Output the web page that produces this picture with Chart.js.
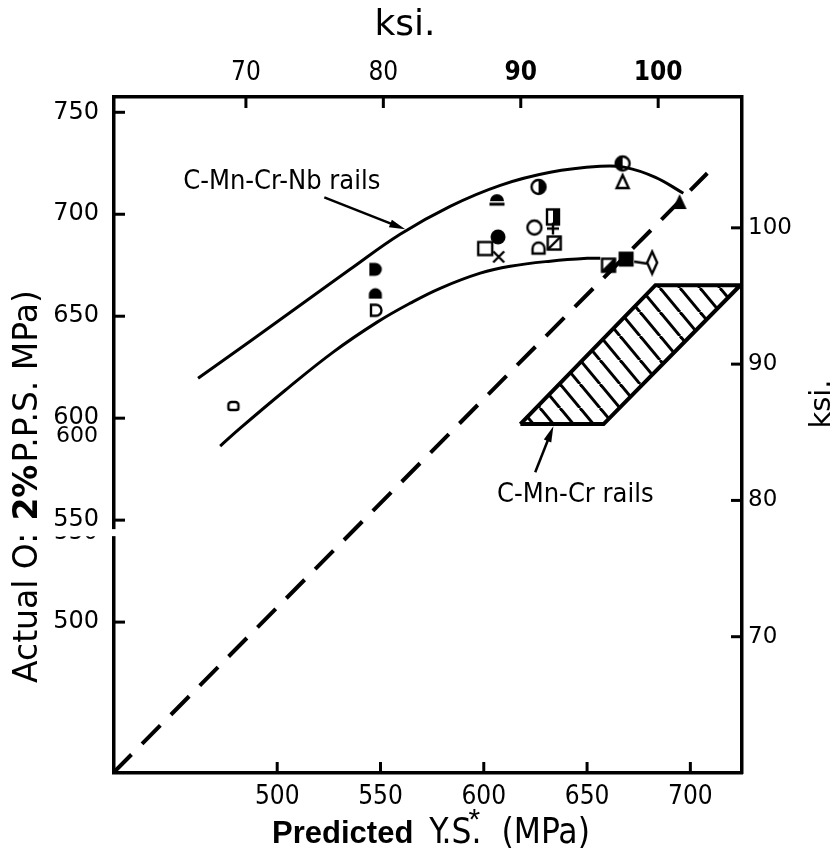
<!DOCTYPE html>
<html>
<head>
<meta charset="utf-8">
<title>Predicted vs actual yield strength of rail steels</title>
<script src="https://cdn.jsdelivr.net/npm/chart.js@4.4.1/dist/chart.umd.min.js"></script>
<style>
  html, body { margin: 0; padding: 0; background: #fff; }
  #wrap { width: 840px; height: 858px; }
</style>
</head>
<body>
<div id="wrap"><canvas id="ysChart" width="840" height="858"></canvas></div>
<script>
// Predicted Y.S. against measured 0.2% proof stress for C-Mn-Cr-Nb rails (MPa)
const predictedYS = [478.8, 547.5, 547.5, 547.8, 606.4, 626.5, 633.5, 624.5, 633.5, 626.5,
                     634.1, 606.9, 600.7, 607.2, 667.2, 667.2, 694.8, 660.4, 668.9, 681.5];
const actualPS    = [606.0, 673.0, 661.1, 652.9, 706.9, 713.4, 698.7, 693.5, 693.0, 683.2,
                     685.9, 688.9, 683.2, 679.1, 724.9, 715.8, 706.0, 675.0, 678.0, 676.3];
const railSymbols = ['smallBox', 'dFilled', 'domeSolid', 'dOpen', 'capFilled', 'circleHalfR',
                     'boxHalf', 'circleOpen', 'plus', 'domeOpen', 'boxDiag', 'circleFilled',
                     'boxOpen', 'cross', 'circleHalfL', 'triOpen', 'triFilled', 'boxDiagHalf',
                     'boxFilled', 'diamondTail'];

// band curves for the Nb rails
const nbUpperX = [461.7, 486.9, 511.1, 535.3, 559.5, 583.7, 608.0, 632.2, 656.4, 668.5, 683.1, 696.6];
const nbUpperY = [619.6, 637.7, 655.4, 673.0, 690.2, 703.9, 714.2, 720.6, 723.5, 723.0, 718.1, 710.3];
const nbLowerX = [472.4, 482.1, 503.9, 527.1, 548.4, 564.4, 578.9, 598.3, 612.8, 632.2, 650.1, 656.4];
const nbLowerY = [586.3, 595.1, 613.7, 632.4, 647.1, 656.4, 663.7, 671.1, 674.5, 677.0, 678.4, 678.4];

// 1:1 line
const parityX = [420.6, 708.2];
const parityY = [426.0, 720.1];

// C-Mn-Cr rails scatter band (closed)
const crBandX = [617.7, 683.1, 724.2, 658.0, 617.7];
const crBandY = [597.1, 665.2, 665.2, 597.1, 597.1];

// axis ticks
const mpaTicksX = [500, 550, 600, 650, 700];
const mpaTicksY = [500, 550, 600, 650, 700, 750];
const ksiTicksTop = [70, 80, 90, 100];
const ksiTicksRight = [70, 80, 90, 100];

const toPoints = (xs, ys) => xs.map((x, i) => ({ x: x, y: ys[i] }));

// little canvases for the marker symbols
function makeSymbol(kind) {
  const c = document.createElement('canvas');
  c.width = kind === 'diamondTail' ? 44 : 22;
  c.height = kind === 'diamondTail' ? 28 : 22;
  const g = c.getContext('2d');
  const cx = c.width / 2, cy = c.height / 2;
  g.strokeStyle = '#000';
  g.fillStyle = '#000';
  g.lineWidth = 2.4;
  g.beginPath();
  switch (kind) {
    case 'smallBox':
      g.moveTo(cx - 2, cy - 4);
      g.arcTo(cx + 5, cy - 4, cx + 5, cy + 4, 3);
      g.arcTo(cx + 5, cy + 4, cx - 5, cy + 4, 2);
      g.arcTo(cx - 5, cy + 4, cx - 5, cy - 4, 2);
      g.arcTo(cx - 5, cy - 4, cx + 5, cy - 4, 3);
      g.closePath();
      g.stroke();
      break;
    case 'dFilled':
      g.moveTo(cx - 6, cy - 6.5);
      g.lineTo(cx, cy - 6.5);
      g.arc(cx, cy, 6.5, -Math.PI / 2, Math.PI / 2);
      g.lineTo(cx - 6, cy + 6.5);
      g.closePath();
      g.fill();
      break;
    case 'dOpen':
      g.moveTo(cx - 5, cy - 5.5);
      g.lineTo(cx, cy - 5.5);
      g.arc(cx, cy, 5.5, -Math.PI / 2, Math.PI / 2);
      g.lineTo(cx - 5, cy + 5.5);
      g.closePath();
      g.stroke();
      break;
    case 'domeSolid':
      g.arc(cx, cy + 1, 6.5, Math.PI, 0);
      g.lineTo(cx + 6.5, cy + 5);
      g.lineTo(cx - 6.5, cy + 5);
      g.closePath();
      g.fill();
      break;
    case 'domeOpen':
      g.moveTo(cx - 6, cy + 5);
      g.lineTo(cx - 6, cy);
      g.arc(cx, cy, 6, Math.PI, 0);
      g.lineTo(cx + 6, cy + 5);
      g.closePath();
      g.stroke();
      break;
    case 'capFilled':
      g.arc(cx, cy + 1, 7, Math.PI, 0);
      g.closePath();
      g.fill();
      g.fillRect(cx - 7.5, cy + 2.5, 15, 3);
      break;
    case 'circleHalfR':
    case 'circleHalfL':
      g.arc(cx, cy, 7, 0, Math.PI * 2);
      g.stroke();
      g.beginPath();
      if (kind === 'circleHalfR') g.arc(cx, cy, 7, -Math.PI / 2, Math.PI / 2);
      else g.arc(cx, cy, 7, Math.PI / 2, Math.PI * 1.5);
      g.closePath();
      g.fill();
      break;
    case 'circleOpen':
      g.arc(cx, cy, 7, 0, Math.PI * 2);
      g.stroke();
      break;
    case 'circleFilled':
      g.arc(cx, cy, 7.5, 0, Math.PI * 2);
      g.fill();
      break;
    case 'boxHalf':
      g.strokeRect(cx - 6, cy - 7.5, 12, 15);
      g.fillRect(cx, cy - 7.5, 6, 15);
      break;
    case 'boxOpen':
      g.strokeRect(cx - 7, cy - 6.5, 14, 13);
      break;
    case 'boxFilled':
      g.fillRect(cx - 7.5, cy - 7.5, 15, 15);
      break;
    case 'boxDiag':
    case 'boxDiagHalf':
      g.strokeRect(cx - 6.5, cy - 6.5, 13, 13);
      g.moveTo(cx - 6.5, cy + 6.5);
      g.lineTo(cx + 6.5, cy - 6.5);
      g.stroke();
      if (kind === 'boxDiagHalf') {
        g.beginPath();
        g.moveTo(cx + 6.5, cy - 6.5);
        g.lineTo(cx + 6.5, cy + 6.5);
        g.lineTo(cx - 6.5, cy + 6.5);
        g.closePath();
        g.fill();
      }
      break;
    case 'plus':
      g.moveTo(cx - 6, cy); g.lineTo(cx + 6, cy);
      g.moveTo(cx, cy - 6); g.lineTo(cx, cy + 6);
      g.stroke();
      break;
    case 'cross':
      g.moveTo(cx - 5.5, cy - 5.5); g.lineTo(cx + 5.5, cy + 5.5);
      g.moveTo(cx + 5.5, cy - 5.5); g.lineTo(cx - 5.5, cy + 5.5);
      g.stroke();
      break;
    case 'triOpen':
      g.moveTo(cx, cy - 7); g.lineTo(cx + 6, cy + 6); g.lineTo(cx - 6, cy + 6);
      g.closePath();
      g.stroke();
      break;
    case 'triFilled':
      g.moveTo(cx, cy - 8); g.lineTo(cx + 7, cy + 7); g.lineTo(cx - 7, cy + 7);
      g.closePath();
      g.fill();
      break;
    case 'diamondTail':
      g.moveTo(cx, cy - 11); g.lineTo(cx + 5, cy); g.lineTo(cx, cy + 11); g.lineTo(cx - 5, cy);
      g.closePath();
      g.stroke();
      g.beginPath();
      g.moveTo(cx - 5, cy + 1);
      g.lineTo(cx - 18, cy - 1);
      g.stroke();
      break;
  }
  return c;
}

// diagonal hatching for the C-Mn-Cr band
function makeHatch() {
  const w = 20, h = 24;
  const c = document.createElement('canvas');
  c.width = w; c.height = h;
  const g = c.getContext('2d');
  g.strokeStyle = '#000';
  g.lineWidth = 3;
  [-w, 0, w].forEach(k => {
    g.beginPath();
    g.moveTo(k, 0);
    g.lineTo(k + w, h);
    g.stroke();
  });
  return g.createPattern(c, 'repeat');
}

const symbolCanvases = railSymbols.map(makeSymbol);

// tick marks point into the plot on all four sides
const inwardTicks = {
  id: 'inwardTicks',
  afterDraw(chart) {
    const { ctx, chartArea: a } = chart;
    const len = 11;
    ctx.save();
    ctx.strokeStyle = '#000';
    ctx.lineWidth = 3;
    ['x', 'x2', 'y', 'y2'].forEach(id => {
      const s = chart.scales[id];
      s.ticks.forEach(t => {
        const p = s.getPixelForValue(t.value);
        ctx.beginPath();
        if (id === 'x') { ctx.moveTo(p, a.bottom); ctx.lineTo(p, a.bottom - len); }
        if (id === 'x2') { ctx.moveTo(p, a.top); ctx.lineTo(p, a.top + len); }
        if (id === 'y') { ctx.moveTo(a.left, p); ctx.lineTo(a.left + len, p); }
        if (id === 'y2') { ctx.moveTo(a.right, p); ctx.lineTo(a.right - len, p); }
        ctx.stroke();
      });
    });
    ctx.restore();
  }
};

function drawArrow(ctx, x1, y1, x2, y2) {
  const ang = Math.atan2(y2 - y1, x2 - x1);
  ctx.beginPath();
  ctx.moveTo(x1, y1);
  ctx.lineTo(x2 - Math.cos(ang) * 10, y2 - Math.sin(ang) * 10);
  ctx.stroke();
  ctx.beginPath();
  ctx.moveTo(x2, y2);
  ctx.lineTo(x2 - Math.cos(ang) * 16 + Math.sin(ang) * 4, y2 - Math.sin(ang) * 16 - Math.cos(ang) * 4);
  ctx.lineTo(x2 - Math.cos(ang) * 16 - Math.sin(ang) * 4, y2 - Math.sin(ang) * 16 + Math.cos(ang) * 4);
  ctx.closePath();
  ctx.fill();
}

// labels with arrows for the two rail groups
const railLabels = {
  id: 'railLabels',
  afterDatasetsDraw(chart) {
    const { ctx } = chart;
    const px = v => chart.scales.x.getPixelForValue(v);
    const py = v => chart.scales.y.getPixelForValue(v);
    ctx.save();
    ctx.fillStyle = '#000';
    ctx.strokeStyle = '#000';
    ctx.lineWidth = 2.5;
    ctx.textBaseline = 'middle';
    ctx.textAlign = 'left';
    ctx.font = '27px "DejaVu Sans Condensed", sans-serif';
    ctx.fillText('C-Mn-Cr-Nb rails', px(454.5), py(715.7));
    drawArrow(ctx, px(522.8), py(708.3), px(562.0), py(692.6));
    ctx.textAlign = 'center';
    ctx.fillText('C-Mn-Cr rails', px(644.3), py(562.3));
    drawArrow(ctx, px(624.9), py(573.5), px(633.7), py(596.1));
    ctx.restore();
  }
};

// axis titles, the bottom and left ones mix bold and regular type
const axisTitles = {
  id: 'axisTitles',
  afterDraw(chart) {
    const { ctx, chartArea: a } = chart;
    ctx.save();
    ctx.fillStyle = '#000';

    // top: ksi.
    ctx.textAlign = 'center';
    ctx.textBaseline = 'middle';
    ctx.font = '36px "DejaVu Sans", sans-serif';
    ctx.fillText('ksi.', a.left + 291, 26);

    // right: ksi.
    ctx.save();
    ctx.translate(a.right + 80, 404);
    ctx.rotate(-Math.PI / 2);
    ctx.font = '29px "DejaVu Sans", sans-serif';
    ctx.fillText('ksi.', 0, 0);
    ctx.restore();

    // bottom: Predicted Y.S.* (MPa)
    ctx.textAlign = 'left';
    ctx.textBaseline = 'alphabetic';
    const boldF = 'bold 31px "Liberation Sans", Arial, sans-serif';
    const thinF = '35px "DejaVu Sans Condensed", sans-serif';
    ctx.font = boldF;
    const w1 = ctx.measureText('Predicted').width;
    ctx.font = thinF;
    const w2 = ctx.measureText('Y.S.').width;
    const w3 = ctx.measureText('(MPa)').width;
    const gap = 16;
    let bx = 431 - (w1 + w2 + w3 + 2 * gap + 4) / 2;
    const by = a.bottom + 70;
    ctx.font = boldF;
    ctx.fillText('Predicted', bx, by);
    bx += w1 + gap;
    ctx.font = thinF;
    ctx.fillText('Y.S.', bx, by);
    bx += w2;
    ctx.font = '30px "Liberation Sans", sans-serif';
    ctx.fillText('*', bx - 13, by - 14);
    bx += 4 + gap;
    ctx.font = thinF;
    ctx.fillText('(MPa)', bx, by);

    // left: Actual 0.2% P.S. (MPa)
    ctx.save();
    ctx.translate(28, 683);
    ctx.rotate(-Math.PI / 2);
    ctx.textBaseline = 'middle';
    const parts = [
      { t: 'Actual O:', f: '33px "DejaVu Sans", sans-serif', after: 12 },
      { t: '2%', f: 'bold 33px "DejaVu Sans", sans-serif', after: 2 },
      { t: 'P.P.S. MPa)', f: '33px "DejaVu Sans", sans-serif', after: 0 }
    ];
    let lx = 0;
    parts.forEach(p => {
      ctx.font = p.f;
      ctx.fillText(p.t, lx, 0);
      lx += ctx.measureText(p.t).width + p.after;
    });
    ctx.restore();

    ctx.restore();
  }
};

// the left scale is pieced together below 550: second 600 label and a cut
const leftScaleSplice = {
  id: 'leftScaleSplice',
  afterDraw(chart) {
    const { ctx, chartArea: a } = chart;
    const ys = chart.scales.y;
    const y600 = ys.getPixelForValue(600);
    const y550 = ys.getPixelForValue(550);
    ctx.save();
    ctx.fillStyle = '#000';
    ctx.textAlign = 'right';
    ctx.textBaseline = 'middle';
    ctx.font = '22px "DejaVu Sans", sans-serif';
    ctx.fillText('600', a.left - 16, y600 + 18);

    const gapTop = y550 + 9, gapBot = y550 + 16;
    ctx.fillStyle = '#fff';
    ctx.fillRect(46, gapTop, a.left - 42, gapBot - gapTop);

    ctx.beginPath();
    ctx.rect(40, gapBot, a.left - 40, 14);
    ctx.clip();
    ctx.fillStyle = '#000';
    ctx.font = '23px "DejaVu Sans", sans-serif';
    ctx.fillText('550', a.left - 16, gapBot - 3);
    ctx.strokeStyle = '#000';
    ctx.lineWidth = 3;
    ctx.beginPath();
    ctx.moveTo(a.left, gapBot + 1.5);
    ctx.lineTo(a.left + 11, gapBot + 1.5);
    ctx.stroke();
    ctx.restore();
  }
};

Chart.defaults.color = '#000';

const axisBorder = { display: true, color: '#000', width: 3.5 };
const noGrid = { display: false, drawTicks: false };
const narrowFamily = '"DejaVu Sans Condensed", sans-serif';
const roundFamily = '"DejaVu Sans", sans-serif';

const ctx = document.getElementById('ysChart').getContext('2d');
const ysChart = new Chart(ctx, {
  type: 'scatter',
  data: {
    datasets: [
      {
        label: 'C-Mn-Cr-Nb rails',
        data: toPoints(predictedYS, actualPS),
        pointStyle: symbolCanvases,
        pointRadius: 6,
        showLine: false
      },
      {
        label: 'upper bound',
        type: 'line',
        data: toPoints(nbUpperX, nbUpperY),
        borderColor: '#000',
        borderWidth: 3,
        tension: 0.4,
        pointRadius: 0,
        fill: false
      },
      {
        label: 'lower bound',
        type: 'line',
        data: toPoints(nbLowerX, nbLowerY),
        borderColor: '#000',
        borderWidth: 3,
        tension: 0.4,
        pointRadius: 0,
        fill: false
      },
      {
        label: 'actual = predicted',
        type: 'line',
        data: toPoints(parityX, parityY),
        borderColor: '#000',
        borderWidth: 4,
        borderDash: [26, 15],
        pointRadius: 0,
        fill: false
      },
      {
        label: 'C-Mn-Cr rails',
        type: 'line',
        data: toPoints(crBandX, crBandY),
        borderColor: '#000',
        borderWidth: 4,
        borderJoinStyle: 'miter',
        backgroundColor: makeHatch(),
        tension: 0,
        pointRadius: 0,
        fill: 'shape'
      }
    ]
  },
  options: {
    responsive: false,
    animation: false,
    events: [],
    layout: { padding: 0 },
    plugins: {
      legend: { display: false },
      tooltip: { enabled: false }
    },
    scales: {
      x: {
        type: 'linear', position: 'bottom', min: 421, max: 725,
        afterBuildTicks: s => { s.ticks = mpaTicksX.map(v => ({ value: v })); },
        afterFit: s => { s.height = 85; },
        ticks: { font: { size: 26, family: narrowFamily }, padding: 9, maxRotation: 0, autoSkip: false },
        grid: noGrid, border: axisBorder
      },
      x2: {
        type: 'linear', position: 'top', min: 60.4, max: 106.1,
        afterBuildTicks: s => { s.ticks = ksiTicksTop.map(v => ({ value: v })); },
        afterFit: s => { s.height = 97; },
        ticks: {
          font: c => ({ size: 26, family: narrowFamily, weight: c.tick && c.tick.value >= 90 ? 'bold' : 'normal' }),
          padding: 8, maxRotation: 0, autoSkip: false
        },
        grid: noGrid, border: axisBorder
      },
      y: {
        type: 'linear', position: 'left', min: 426, max: 757.5,
        afterBuildTicks: s => { s.ticks = mpaTicksY.map(v => ({ value: v })); },
        afterFit: s => { s.width = 114; },
        ticks: { font: { size: 24, family: roundFamily }, padding: 15, autoSkip: false },
        grid: noGrid, border: axisBorder
      },
      y2: {
        type: 'linear', position: 'right', min: 60.0, max: 109.6,
        afterBuildTicks: s => { s.ticks = ksiTicksRight.map(v => ({ value: v })); },
        afterFit: s => { s.width = 98; },
        ticks: { font: { size: 23, family: roundFamily }, padding: 6, autoSkip: false },
        grid: noGrid, border: axisBorder
      }
    }
  },
  plugins: [inwardTicks, railLabels, axisTitles, leftScaleSplice]
});
</script>
</body>
</html>
